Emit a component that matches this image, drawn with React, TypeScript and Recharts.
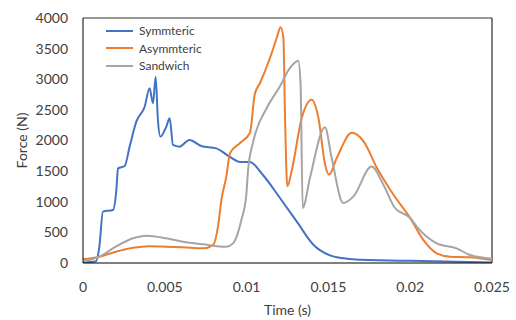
import React from 'react';
import { LineChart, Line, XAxis, YAxis, ReferenceLine, Legend } from 'recharts';

const symmetric = [
  { t: 0, v: 10 }, { t: 0.0008, v: 30 }, { t: 0.001, v: 266 }, { t: 0.00122, v: 838 },
  { t: 0.00183, v: 865 }, { t: 0.00204, v: 1194 }, { t: 0.00214, v: 1546 }, { t: 0.00255, v: 1584 },
  { t: 0.00285, v: 1900 }, { t: 0.00326, v: 2307 }, { t: 0.00377, v: 2552 }, { t: 0.00407, v: 2852 },
  { t: 0.00428, v: 2607 }, { t: 0.00444, v: 3042 }, { t: 0.00458, v: 2335 }, { t: 0.00473, v: 2062 },
  { t: 0.00509, v: 2225 }, { t: 0.0053, v: 2362 }, { t: 0.0055, v: 1927 }, { t: 0.0059, v: 1900 },
  { t: 0.0065, v: 2008 }, { t: 0.00723, v: 1910 }, { t: 0.00815, v: 1872 }, { t: 0.00896, v: 1735 },
  { t: 0.0096, v: 1650 }, { t: 0.0102, v: 1648 }, { t: 0.011, v: 1437 }, { t: 0.01204, v: 1061 },
  { t: 0.01306, v: 680 }, { t: 0.01408, v: 299 }, { t: 0.0151, v: 125 }, { t: 0.01612, v: 71 },
  { t: 0.01815, v: 43 }, { t: 0.02, v: 36 }, { t: 0.025, v: 10 },
];

const asymmetric = [
  { t: 0, v: 60 }, { t: 0.001, v: 103 }, { t: 0.002, v: 185 }, { t: 0.00306, v: 250 },
  { t: 0.00407, v: 275 }, { t: 0.0051, v: 266 }, { t: 0.0061, v: 256 }, { t: 0.00733, v: 239 },
  { t: 0.00795, v: 293 }, { t: 0.00825, v: 593 }, { t: 0.00846, v: 1029 }, { t: 0.00876, v: 1410 },
  { t: 0.00899, v: 1796 }, { t: 0.0096, v: 1960 }, { t: 0.0102, v: 2122 }, { t: 0.0105, v: 2754 },
  { t: 0.01082, v: 2939 }, { t: 0.01143, v: 3347 }, { t: 0.01184, v: 3673 }, { t: 0.01208, v: 3847 },
  { t: 0.01225, v: 3673 }, { t: 0.01235, v: 2367 }, { t: 0.01249, v: 1252 }, { t: 0.01275, v: 1497 },
  { t: 0.01337, v: 2367 }, { t: 0.01398, v: 2666 }, { t: 0.01439, v: 2367 }, { t: 0.0148, v: 1605 },
  { t: 0.01504, v: 1442 }, { t: 0.01551, v: 1714 }, { t: 0.01643, v: 2125 }, { t: 0.01715, v: 1986 },
  { t: 0.01797, v: 1551 }, { t: 0.01898, v: 1115 }, { t: 0.02, v: 735 }, { t: 0.0208, v: 376 },
  { t: 0.02162, v: 158 }, { t: 0.02243, v: 103 }, { t: 0.02366, v: 93 }, { t: 0.025, v: 49 },
];

const sandwich = [
  { t: 0, v: 20 }, { t: 0.001, v: 103 }, { t: 0.002, v: 266 }, { t: 0.00306, v: 403 },
  { t: 0.00387, v: 446 }, { t: 0.0051, v: 403 }, { t: 0.0061, v: 348 }, { t: 0.00733, v: 305 },
  { t: 0.00876, v: 266 }, { t: 0.00917, v: 321 }, { t: 0.00968, v: 702 }, { t: 0.00998, v: 1110 },
  { t: 0.01009, v: 1518 }, { t: 0.01041, v: 1986 }, { t: 0.01123, v: 2530 }, { t: 0.01204, v: 2884 },
  { t: 0.01265, v: 3184 }, { t: 0.01316, v: 3303 }, { t: 0.0133, v: 2911 }, { t: 0.01343, v: 898 },
  { t: 0.01387, v: 1388 }, { t: 0.01479, v: 2215 }, { t: 0.0152, v: 1714 }, { t: 0.01591, v: 978 },
  { t: 0.01652, v: 1083 }, { t: 0.01764, v: 1575 }, { t: 0.01836, v: 1279 }, { t: 0.01907, v: 898 },
  { t: 0.02, v: 735 }, { t: 0.0204, v: 593 }, { t: 0.02162, v: 321 }, { t: 0.02284, v: 239 },
  { t: 0.02366, v: 130 }, { t: 0.025, v: 70 },
];

const xTicks = [0, 0.005, 0.01, 0.015, 0.02, 0.025];
const yTicks = [0, 500, 1000, 1500, 2000, 2500, 3000, 3500, 4000];
const seriesNames = ['Symmteric', 'Asymmteric', 'Sandwich'];
const seriesColors = ['#4472C4', '#ED7D31', '#A5A5A5'];

const FONT = 'Lato, "Open Sans", sans-serif';
const TEXT = '#404040';

const LegendContent = () => (
  <div style={{ fontFamily: FONT, fontSize: 12, color: TEXT }}>
    {seriesNames.map((n, i) => (
      <div key={n} style={{ display: 'flex', alignItems: 'center', height: 17.5 }}>
        <svg width={30} height={6} style={{ marginRight: 3 }}>
          <line x1={0} y1={3} x2={27} y2={3} stroke={seriesColors[i]} strokeWidth={2} />
        </svg>
        <span>{n}</span>
      </div>
    ))}
  </div>
);

export default function App() {
  const seriesData = [symmetric, asymmetric, sandwich];
  return (
    <div style={{ position: 'absolute', left: 0, top: 0 }}>
      <LineChart width={516} height={320} margin={{ top: 18, right: 24, bottom: 1, left: 0 }}>
        <XAxis
          type="number"
          dataKey="t"
          domain={[0, 0.025]}
          ticks={xTicks}
          tickLine={false}
          tickSize={0}
          tickMargin={19}
          height={56}
          axisLine={{ stroke: '#000', strokeWidth: 1 }}
          tick={{ fill: TEXT, fontSize: 14, fontFamily: FONT }}
          label={{ value: 'Time (s)', position: 'insideBottom', offset: 4, fill: TEXT, fontSize: 14, fontFamily: FONT }}
          allowDataOverflow
        />
        <YAxis
          type="number"
          domain={[0, 4000]}
          ticks={yTicks}
          tickLine={false}
          tickSize={0}
          tickMargin={15}
          width={83}
          axisLine={{ stroke: '#000', strokeWidth: 1 }}
          tick={{ fill: TEXT, fontSize: 14, fontFamily: FONT }}
          label={{ value: 'Force (N)', angle: -90, position: 'insideLeft', offset: 22, fill: TEXT, fontSize: 14, fontFamily: FONT, style: { textAnchor: 'middle' } }}
          allowDataOverflow
        />
        <ReferenceLine y={4000} stroke="#333" strokeWidth={1} />
        <ReferenceLine x={0.025} stroke="#000" strokeWidth={1} />
        <Legend
          layout="vertical"
          align="center"
          verticalAlign="middle"
          content={<LegendContent />}
          wrapperStyle={{ left: 106, top: 22, width: 120, height: 55 }}
        />
        {seriesData.map((d, i) => (
          <Line
            key={seriesNames[i]}
            data={d}
            dataKey="v"
            name={seriesNames[i]}
            type="monotone"
            stroke={seriesColors[i]}
            strokeWidth={2}
            dot={false}
            activeDot={false}
            isAnimationActive={false}
          />
        ))}
      </LineChart>
    </div>
  );
}
